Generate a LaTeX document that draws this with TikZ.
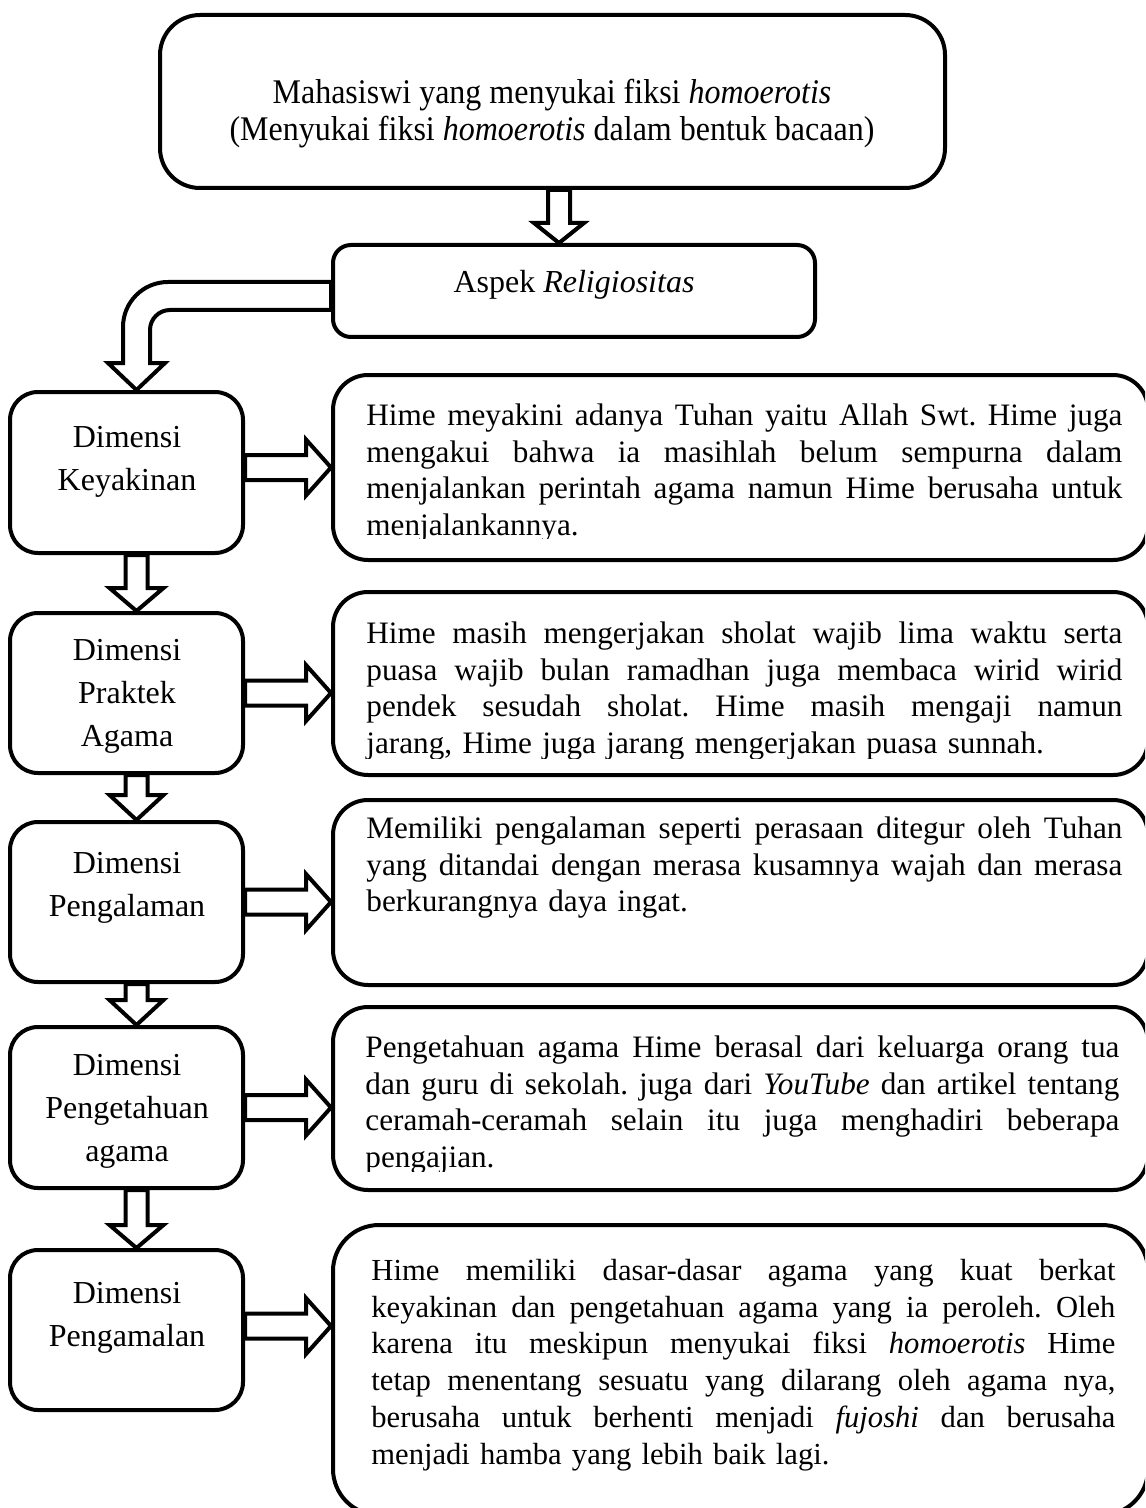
\documentclass[tikz,border=0pt]{standalone}
\usepackage{fontspec}
\usepackage{graphicx}
\setmainfont{Liberation Serif}
\usetikzlibrary{calc,fit}
\frenchspacing
\newlength\jlw
\tikzset{
  bx/.style={draw, line width=2pt, fill=white, inner sep=0pt, rounded corners=#1},
  harrow/.style={draw, line width=2pt, fill=white, line join=miter},
  rtext/.style={anchor=north west, inner sep=0pt, align=left, text width=#1,
    font=\fontsize{15.6}{18.4}\selectfont},
  ltext/.style={anchor=north, inner sep=0pt, align=center, font=\fontsize{16}{21.5}\selectfont},
  ttext/.style={anchor=base, inner sep=0pt, font=\fontsize{16}{18}\selectfont},
}
\newcommand\jl[1]{\leavevmode\hbox to \jlw{\spaceskip=0.25em plus 1em minus 0.05em\relax #1}}
\newcommand\darrow[5]{% from, tip, shaft half, head half, head length
  \draw[harrow] ($(#1.south -| #2)+(-#3,0)$) -- ($(#2)+(-#3,-#5)$) -- ($(#2)+(-#4,-#5)$) -- (#2)
    -- ($(#2)+(#4,-#5)$) -- ($(#2)+(#3,-#5)$) -- ($(#1.south -| #2)+(#3,0)$) -- cycle;}
\newcommand\rarrow[3]{% from, to, dy
  \coordinate (tmpS) at ($(#1.east)+(0,#3)$);
  \coordinate (tmpT) at (tmpS -| #2.west);
  \draw[harrow] ($(tmpS)+(0,-12.5)$) -- ($(tmpT)+(-25,-12.5)$) -- ($(tmpT)+(-25,-28)$) -- (tmpT)
    -- ($(tmpT)+(-25,28)$) -- ($(tmpT)+(-25,12.5)$) -- ($(tmpS)+(0,12.5)$) -- cycle;}
\begin{document}
\begin{tikzpicture}[x=0.5pt,y=-0.5pt]
\useasboundingbox (0,0) rectangle (1145,1508);
\clip (0,0) rectangle (1145,1508);
% boxes
\node[bx=20pt, fit={(160,15)(945,188)}] (top) {};
\node[bx=9pt, fit={(333,245)(815,337)}] (asp) {};
\node[bx=14pt, fit={(10,392)(243,553)}] (k) {};
\node[bx=14pt, fit={(10,613)(243,773)}] (p) {};
\node[bx=14pt, fit={(10,822)(243,982)}] (g) {};
\node[bx=14pt, fit={(10,1027)(243,1188)}] (t) {};
\node[bx=14pt, fit={(10,1250)(243,1410)}] (m) {};
\node[bx=17.5pt, fit={(333,375)(1148,560)}] (r1) {};
\node[bx=17.5pt, fit={(333,592)(1148,775)}] (r2) {};
\node[bx=17.5pt, fit={(333,800)(1148,985)}] (r3) {};
\node[bx=17.5pt, fit={(333,1007)(1148,1190)}] (r4) {};
\node[bx=23pt, fit={(333,1225)(1148,1515)}] (r5) {};
% arrows
\coordinate (ta) at ($(asp.north)+(-15,0)$);
\darrow{top}{ta}{11}{25}{20}
\coordinate (ca) at ($(k.north)+(10,0)$);
\coordinate (o1) at ($(asp.west)+(0,-9)$);
\coordinate (i1) at ($(asp.west)+(0,19)$);
\coordinate (ol) at ($(ca)+(-13.5,-27)$);
\coordinate (il) at ($(ca)+(13.5,-27)$);
\coordinate (oc) at (ol |- o1);
\coordinate (ic) at (il |- i1);
\draw[harrow] (o1) -- ($(oc)+(45,0)$) .. controls ($(oc)+(20.15,0)$) and ($(oc)+(0,20.15)$) .. ($(oc)+(0,45)$)
  -- (ol) -- ($(ol)+(-15,0)$) -- (ca) -- ($(il)+(15,0)$) -- (il) -- ($(ic)+(0,20)$)
  .. controls ($(ic)+(0,8.95)$) and ($(ic)+(8.95,0)$) .. ($(ic)+(20,0)$) -- (i1) -- cycle;
\coordinate (tp) at ($(p.north)+(10,0)$);
\coordinate (tg) at ($(g.north)+(10,0)$);
\coordinate (tt) at ($(t.north)+(10,0)$);
\coordinate (tm) at ($(m.north)+(10,0)$);
\darrow{k}{tp}{11}{27}{23}
\darrow{p}{tg}{11}{27}{25}
\darrow{g}{tt}{11}{27}{25}
\darrow{t}{tm}{11}{27}{23}
\rarrow{k}{r1}{-5}
\rarrow{p}{r2}{0}
\rarrow{g}{r3}{0}
\rarrow{t}{r4}{0}
\rarrow{m}{r5}{-4}
% texts
\node[ttext] (toptext1) at (552,104) {\scalebox{1}[1.08]{Mahasiswi yang menyukai fiksi \textit{homoerotis}}};
\node[ttext] (toptext2) at (552,141) {\scalebox{1}[1.08]{(Menyukai fiksi \textit{homoerotis} dalam bentuk bacaan)}};
\node[anchor=base, inner sep=0pt, font=\fontsize{16}{18.4}\selectfont] (asptext) at (574,293) {Aspek \textit{Religiositas}};
\node[ltext] (kt) at (127,417) {\strut Dimensi\\Keyakinan};
\node[ltext] (pt) at (127,630) {\strut Dimensi\\Praktek\\Agama};
\node[ltext] (gt) at (127,843) {\strut Dimensi\\Pengalaman};
\node[ltext] (tt2) at (127,1045) {\strut Dimensi\\Pengetahuan\\agama};
\node[ltext] (mt) at (127,1273) {\strut Dimensi\\Pengamalan};
\global\jlw=378pt\relax
\begin{scope}
\clip (333,375) rectangle (1148,538);
\node[rtext=378pt] (r1t) at (366,399.2) {\jl{\strut Hime meyakini adanya Tuhan yaitu Allah Swt. Hime juga}\\
\jl{mengakui bahwa ia masihlah belum sempurna dalam}\\
\jl{menjalankan perintah agama namun Hime berusaha untuk}\\
menjalankannya.};
\end{scope}
\begin{scope}
\clip (333,592) rectangle (1148,758);
\node[rtext=378pt] (r2t) at (366,617.2) {\jl{\strut Hime masih mengerjakan sholat wajib lima waktu serta}\\
\jl{puasa wajib bulan ramadhan juga membaca wirid wirid}\\
\jl{pendek sesudah sholat. Hime masih mengaji namun}\\
jarang, Hime juga jarang mengerjakan puasa sunnah.};
\end{scope}
\node[rtext=378pt] (r3t) at (366,812.2) {\jl{\strut Memiliki pengalaman seperti perasaan ditegur oleh Tuhan}\\
\jl{yang ditandai dengan merasa kusamnya wajah dan merasa}\\
berkurangnya daya ingat.};
\global\jlw=377pt\relax
\begin{scope}
\clip (333,1007) rectangle (1148,1171);
\node[rtext=377pt] (r4t) at (365,1031.2) {\jl{\strut Pengetahuan agama Hime berasal dari keluarga orang tua}\\
\jl{dan guru di sekolah. juga dari \textit{YouTube} dan artikel tentang}\\
\jl{ceramah-ceramah selain itu juga menghadiri beberapa}\\
pengajian.};
\end{scope}
\global\jlw=372pt\relax
\node[rtext=372pt, font=\fontsize{15.3}{18.4}\selectfont] (r5t) at (371,1254.2) {\jl{\strut Hime memiliki dasar-dasar agama yang kuat berkat}\\
\jl{keyakinan dan pengetahuan agama yang ia peroleh. Oleh}\\
\jl{karena itu meskipun menyukai fiksi \textit{homoerotis} Hime}\\
\jl{tetap menentang sesuatu yang dilarang oleh agama nya,}\\
\jl{berusaha untuk berhenti menjadi \textit{fujoshi} dan berusaha}\\
menjadi hamba yang lebih baik lagi.};
\end{tikzpicture}
\end{document}
